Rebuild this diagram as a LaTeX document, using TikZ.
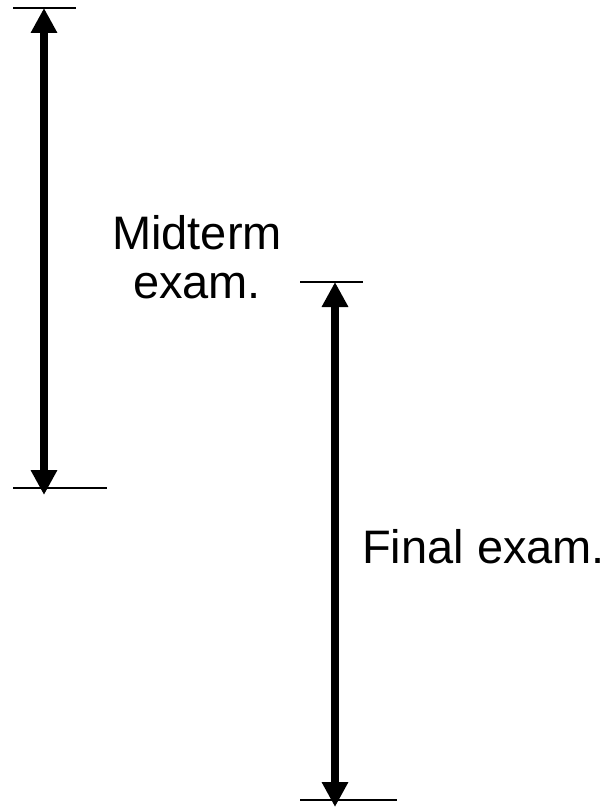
\documentclass[tikz,border=0pt]{standalone}
\usepackage{fontspec}
\setmainfont{Liberation Sans}
\usetikzlibrary{arrows.meta}
\begin{document}
\begin{tikzpicture}[x=1pt,y=-1pt,
  span/.style={line width=8pt,{Triangle[length=25pt,width=25pt]}-{Triangle[length=25pt,width=25pt]}},
  tick/.style={line width=1.6pt},
  lbl/.style={inner sep=0pt,font=\fontsize{47}{49}\selectfont,align=center}]
\useasboundingbox (0,0) rectangle (608,808);
% left span
\coordinate (mtop) at (44,8);
\coordinate (mbot) at (44,495);
\coordinate (mt1) at (13,8);
\coordinate (mt2) at (76,8);
\coordinate (mb1) at (13,488);
\coordinate (mb2) at (107,488);
\draw[tick] (mt1) -- (mt2);
\draw[tick] (mb1) -- (mb2);
\draw[span] (mtop) -- (mbot);
% right span
\coordinate (ftop) at (335,282);
\coordinate (fbot) at (335,807);
\coordinate (ft1) at (300,282);
\coordinate (ft2) at (363,282);
\coordinate (fb1) at (300,800);
\coordinate (fb2) at (397,800);
\draw[tick] (ft1) -- (ft2);
\draw[tick] (fb1) -- (fb2);
\draw[span] (ftop) -- (fbot);
% labels
\node[lbl,anchor=base] (mid) at (197,298) {Midterm\\exam.};
\node[lbl,anchor=base west] (fin) at (362,563) {Final exam.};
\end{tikzpicture}
\end{document}
